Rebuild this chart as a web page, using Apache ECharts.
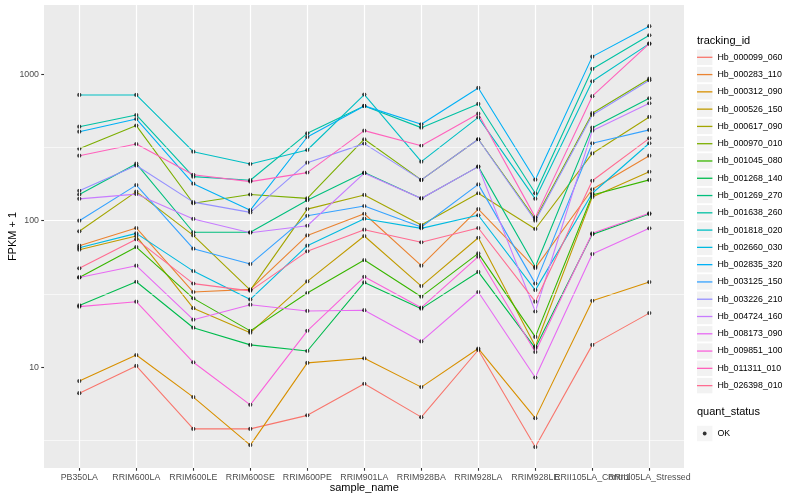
<!DOCTYPE html>
<html><head><meta charset="utf-8">
<script src="https://cdn.jsdelivr.net/npm/echarts@6/dist/echarts.min.js"></script>
<style>html,body{margin:0;padding:0;background:#fff}#c{width:800px;height:500px}</style>
</head><body><div id="c"></div>
<script>
const categories = ['PB350LA','RRIM600LA','RRIM600LE','RRIM600SE','RRIM600PE','RRIM901LA','RRIM928BA','RRIM928LA','RRIM928LE','RRII105LA_Control','RRII105LA_Stressed'];
const trackingIds = ['Hb_000099_060','Hb_000283_110','Hb_000312_090','Hb_000526_150','Hb_000617_090','Hb_000970_010','Hb_001045_080','Hb_001268_140','Hb_001269_270','Hb_001638_260','Hb_001818_020','Hb_002660_030','Hb_002835_320','Hb_003125_150','Hb_003226_210','Hb_004724_160','Hb_008173_090','Hb_009851_100','Hb_011311_010','Hb_026398_010'];
const lineColors = ['#F8766D','#EA8331','#D89000','#C09B00','#A3A500','#7CAE00','#39B600','#00BB4E','#00BF7D','#00C1A3','#00BFC4','#00BAE0','#00B0F6','#35A2FF','#9590FF','#C77CFF','#E76BF3','#FA62DB','#FF62BC','#FF6C91'];
const yTickValues = [10, 100, 1000];
const yMinorValues = [3.1623, 31.623, 316.23];
const quantStatus = ['OK'];

const hb_000099_060 = [6.65, 10.2, 3.79, 3.79, 4.69, 7.71, 4.56, 13.1, 2.85, 14.2, 23.4];
const hb_000283_110 = [67.5, 89.2, 32.6, 34.0, 79.4, 111.6, 49.3, 120, 47.5, 164, 278];
const hb_000312_090 = [8.04, 12.1, 6.25, 2.94, 10.7, 11.5, 7.31, 13.4, 4.49, 28.4, 38.1];
const hb_000526_150 = [63.4, 78.6, 25.3, 17.2, 38.5, 78.6, 35.8, 76.5, 13.9, 145, 216];
const hb_000617_090 = [84.7, 158, 79.4, 33.6, 120, 150, 93.5, 154, 87.8, 288, 511];
const hb_000970_010 = [310, 446, 131.5, 151, 142, 360, 190, 360, 102.8, 542, 933];
const hb_001045_080 = [41.0, 66.1, 29.5, 17.7, 32.1, 53.9, 30.3, 59.8, 16.1, 150, 190];
const hb_001268_140 = [26.4, 38.3, 18.6, 14.2, 12.9, 37.9, 25.1, 44.7, 13.5, 80.7, 111];
const hb_001269_270 = [151, 245, 83.4, 83.4, 138, 213, 142, 234, 48.5, 432, 685];
const hb_001638_260 = [438.5, 527, 200, 189, 395, 608, 432, 627, 154, 1087, 1846];
const hb_001818_020 = [722, 722, 296, 244, 304, 726, 253, 508, 141, 896, 1618];
const hb_002660_030 = [65.4, 82.0, 45.3, 29.0, 67.5, 103.2, 88.7, 109, 33.6, 154, 338];
const hb_002835_320 = [405.5, 495, 179, 118, 373, 608, 455, 806, 190.5, 1319, 2128];
const hb_003125_150 = [100, 175, 64.4, 50.6, 108, 126, 90.6, 177, 37.2, 338, 417];
const hb_003226_210 = [160, 238, 134, 114, 249, 336, 190, 360, 100, 527, 910];
const hb_004724_160 = [141, 152, 102.8, 82.8, 92.4, 211, 142, 234, 24.0, 412, 634];
const hb_008173_090 = [41.0, 49.3, 21.1, 26.7, 24.2, 24.5, 15.0, 32.6, 8.5, 59.2, 88.7];
const hb_009851_100 = [25.9, 28.0, 10.8, 5.53, 17.7, 41.4, 25.5, 56.8, 12.7, 82.0, 112.4];
const hb_011311_010 = [278, 334, 206, 185, 213, 412, 325, 538, 105.4, 708, 1618];
const hb_026398_010 = [47.3, 74.6, 37.2, 33.2, 61.8, 86.8, 71.2, 89.2, 28.0, 187.5, 365];

const seriesValues = [hb_000099_060, hb_000283_110, hb_000312_090, hb_000526_150, hb_000617_090, hb_000970_010, hb_001045_080, hb_001268_140, hb_001269_270, hb_001638_260, hb_001818_020, hb_002660_030, hb_002835_320, hb_003125_150, hb_003226_210, hb_004724_160, hb_008173_090, hb_009851_100, hb_011311_010, hb_026398_010];

const FONT = "'Liberation Sans', Arial, Helvetica, sans-serif";
const Y_MIN = 2.05, Y_MAX = 2970;

const chart = echarts.init(document.getElementById('c'), null, {renderer: 'canvas'});

const lineSeries = trackingIds.map((id, i) => ({
  name: id, type: 'line', xAxisIndex: 1, yAxisIndex: 1,
  data: seriesValues[i], showSymbol: false, symbol: 'none',
  lineStyle: {color: lineColors[i], width: 1.1},
  itemStyle: {color: lineColors[i]},
  z: 2, silent: true, emphasis: {disabled: true}
}));

const pointData = [];
seriesValues.forEach(vals => vals.forEach((v, j) => pointData.push([categories[j], v])));

const markLineBase = {
  silent: true, symbol: ['none', 'none'], label: {show: false},
  emphasis: {disabled: true}, animation: false
};

const option = {
  animation: false,
  backgroundColor: '#ffffff',
  textStyle: {fontFamily: FONT},
  title: [
    {text: 'tracking_id', left: 697, top: 35.2, padding: 0,
     textStyle: {fontSize: 11, fontWeight: 'normal', color: '#000', fontFamily: FONT, lineHeight: 11}},
    {text: 'quant_status', left: 697, top: 406, padding: 0,
     textStyle: {fontSize: 11, fontWeight: 'normal', color: '#000', fontFamily: FONT, lineHeight: 11}}
  ],
  legend: [
    {id: 'bg1', data: trackingIds, orient: 'vertical', left: 697, top: 49.6, padding: 0,
     itemGap: 1.88, itemWidth: 15.4, itemHeight: 15.4, icon: 'rect',
     itemStyle: {color: '#F2F2F2', borderWidth: 0}, formatter: () => '',
     selectedMode: false, z: 3, textStyle: {fontSize: 8.8, lineHeight: 15.4}},
    {id: 'fg1', data: trackingIds, orient: 'vertical', left: 697, top: 49.6, padding: 0,
     itemGap: 1.88, itemWidth: 15.4, itemHeight: 1.3, icon: 'rect',
     itemStyle: {borderWidth: 0}, selectedMode: false, z: 4,
     textStyle: {fontSize: 8.8, lineHeight: 15.4, color: '#000', fontFamily: FONT}},
    {id: 'bg2', data: quantStatus, orient: 'vertical', left: 697, top: 425.8, padding: 0,
     itemWidth: 15.4, itemHeight: 15.4, icon: 'rect',
     itemStyle: {color: '#F2F2F2', borderWidth: 0}, formatter: () => '',
     selectedMode: false, z: 3, textStyle: {fontSize: 8.8, lineHeight: 15.4}},
    {id: 'fg2', data: quantStatus, orient: 'vertical', left: 702.8, top: 425.8, padding: 0,
     itemWidth: 3.8, itemHeight: 3.8, icon: 'circle',
     itemStyle: {color: '#000', borderWidth: 0}, selectedMode: false, z: 4,
     textStyle: {fontSize: 8.8, lineHeight: 15.4, color: '#000', fontFamily: FONT, padding: [0, 0, 0, 5.8]}}
  ],
  grid: [
    {left: 44, right: 116, top: 5, bottom: 32, show: true, backgroundColor: '#EBEBEB', borderWidth: 0, outerBoundsMode: 'none', containLabel: false},
    {left: 50.8, right: 122.2, top: 5, bottom: 32, show: false, outerBoundsMode: 'none', containLabel: false}
  ],
  xAxis: [
    {gridIndex: 0, type: 'value', min: 0, max: 1, show: false},
    {gridIndex: 1, type: 'category', data: categories, boundaryGap: true,
     axisLine: {show: false},
     axisTick: {show: true, alignWithLabel: true, length: 2.75, lineStyle: {color: '#333333', width: 1.1}},
     axisLabel: {interval: 0, color: '#4D4D4D', fontSize: 8.8, fontFamily: FONT, margin: 5},
     splitLine: {show: false},
     name: 'sample_name', nameLocation: 'middle', nameGap: 14.5, nameMoveOverlap: false,
     nameTextStyle: {fontSize: 11, color: '#000', fontFamily: FONT}}
  ],
  yAxis: [
    {gridIndex: 0, type: 'log', logBase: 10, min: Y_MIN, max: Y_MAX,
     axisLine: {show: false},
     axisTick: {show: true, length: 2.75, customValues: yTickValues, lineStyle: {color: '#333333', width: 1.1}},
     axisLabel: {customValues: yTickValues, formatter: v => String(Math.round(v)), color: '#4D4D4D', fontSize: 8.8, fontFamily: FONT, margin: 5},
     splitLine: {show: true, showMinLine: false, showMaxLine: false, lineStyle: {color: '#FFFFFF', width: 1.2}},
     name: 'FPKM + 1', nameLocation: 'middle', nameRotate: 90, nameGap: 25.5, nameMoveOverlap: false,
     nameTextStyle: {fontSize: 11, color: '#000', fontFamily: FONT}},
    {gridIndex: 1, type: 'log', logBase: 10, min: Y_MIN, max: Y_MAX, show: false}
  ],
  series: [
    {name: '_hminor', type: 'line', xAxisIndex: 0, yAxisIndex: 0, data: [[0.5, 10]], symbol: 'none',
     lineStyle: {opacity: 0}, z: 1, silent: true,
     markLine: Object.assign({}, markLineBase, {lineStyle: {color: '#FFFFFF', width: 0.6, type: 'solid'},
       data: yMinorValues.map(v => ({yAxis: v}))})},
    {name: '_vgrid', type: 'line', xAxisIndex: 1, yAxisIndex: 1, data: [], symbol: 'none', z: 1, silent: true,
     markLine: Object.assign({}, markLineBase, {lineStyle: {color: '#FFFFFF', width: 1.2, type: 'solid'},
       data: categories.map(c => ({xAxis: c}))})},
    ...lineSeries,
    {name: 'OK', type: 'scatter', xAxisIndex: 1, yAxisIndex: 1, data: pointData,
     symbol: 'circle', symbolSize: 4.2, itemStyle: {color: '#000000'}, z: 3, silent: true,
     emphasis: {disabled: true}}
  ]
};
chart.setOption(option);
</script></body></html>
